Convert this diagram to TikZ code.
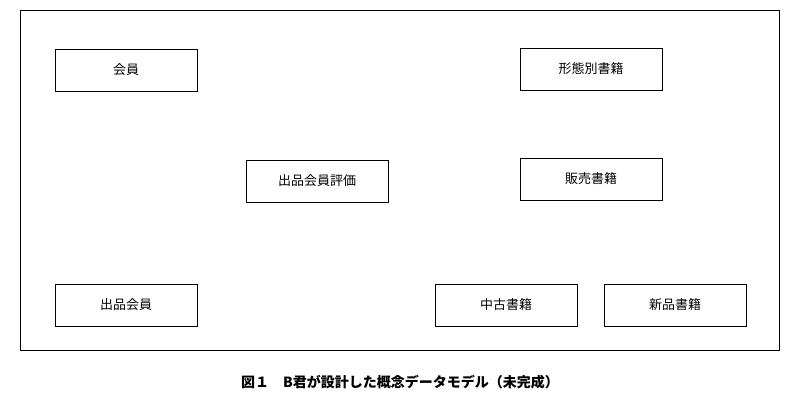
\documentclass[tikz,border=0pt]{standalone}
\usepackage{fontspec}
\setmainfont{Noto Sans CJK JP}
\begin{document}
\begin{tikzpicture}[x=1pt,y=-1pt,
  ent/.style={draw,line width=1pt,minimum width=142pt,minimum height=42pt,inner sep=0pt,font=\fontsize{13}{15}\selectfont}]
\useasboundingbox (0,0) rectangle (803,400);
\draw[line width=1pt] (20,10) rectangle (779,350);
\node[ent] (kaiin) at (126,70) {会員};
\node[ent] (keitai) at (591,69) {形態別書籍};
\node[ent] (hyoka) at (317,181) {出品会員評価};
\node[ent] (hanbai) at (591,179) {販売書籍};
\node[ent] (shuppin) at (126,305) {出品会員};
\node[ent] (chuko) at (506,305) {中古書籍};
\node[ent] (shinpin) at (675,305) {新品書籍};
\node[font=\fontsize{14}{16}\selectfont\bfseries] (cap) at (400,382) {図１　B君が設計した概念データモデル（未完成）};
\end{tikzpicture}
\end{document}
